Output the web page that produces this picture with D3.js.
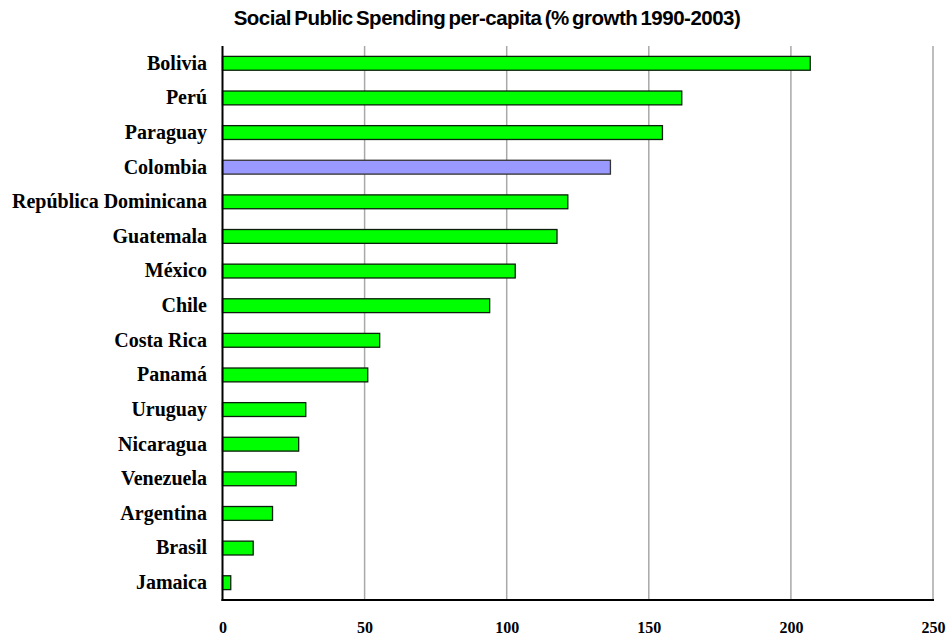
<!DOCTYPE html>
<html>
<head>
<meta charset="utf-8">
<script src="https://cdn.jsdelivr.net/npm/d3@7/dist/d3.min.js"></script>
<style>
  html, body { margin: 0; padding: 0; background: #fff; }
  svg { display: block; }
</style>
</head>
<body>
<svg id="chart" width="948" height="639"></svg>
<script>
// Social public spending per capita, % growth 1990-2003
const countries = ["Bolivia", "Perú", "Paraguay", "Colombia", "República Dominicana",
  "Guatemala", "México", "Chile", "Costa Rica", "Panamá", "Uruguay", "Nicaragua",
  "Venezuela", "Argentina", "Brasil", "Jamaica"];
const growth = [206.8, 161.6, 154.8, 136.5, 121.5, 117.7, 103.0, 94.0,
  55.3, 51.1, 29.3, 26.8, 25.9, 17.6, 10.8, 2.9];
const highlighted = ["Colombia"];
const xTicks = [0, 50, 100, 150, 200, 250];

const rows = countries.map((c, i) => ({ country: c, value: growth[i] }));

const svg = d3.select("#chart");
const margin = { top: 46, right: 15, bottom: 39, left: 222.5 };
const W = 948, H = 639;

const x = d3.scaleLinear().domain([0, 250]).range([margin.left, W - margin.right]);
const y = d3.scaleBand().domain(countries)
  .range([margin.top, H - margin.bottom])
  .paddingInner(0.6).paddingOuter(0.3);

// title
svg.append("text")
  .attr("x", 487).attr("y", 25)
  .attr("text-anchor", "middle")
  .attr("font-family", "'Liberation Sans', Arial, sans-serif")
  .attr("font-weight", "bold")
  .attr("font-size", 20.5)
  .attr("letter-spacing", -0.5)
  .attr("word-spacing", -2)
  .attr("fill", "#000")
  .text("Social Public Spending per-capita (% growth 1990-2003)");

// vertical gridlines
svg.append("g")
  .selectAll("line")
  .data(xTicks.filter(t => t > 0))
  .join("line")
  .attr("x1", d => x(d)).attr("x2", d => x(d))
  .attr("y1", margin.top).attr("y2", H - margin.bottom)
  .attr("stroke", "#a8a8a8")
  .attr("stroke-width", 1.5);

// bars
svg.append("g")
  .selectAll("rect")
  .data(rows)
  .join("rect")
  .attr("x", x(0))
  .attr("y", d => y(d.country))
  .attr("width", d => x(d.value) - x(0))
  .attr("height", y.bandwidth())
  .attr("fill", d => highlighted.includes(d.country) ? "#9999ff" : "#00ff00")
  .attr("stroke", d => highlighted.includes(d.country) ? "#333333" : "#0a200a")
  .attr("stroke-width", 1.3);

// axes lines
svg.append("line")
  .attr("x1", x(0)).attr("x2", x(0))
  .attr("y1", margin.top).attr("y2", H - margin.bottom + 1)
  .attr("stroke", "#000").attr("stroke-width", 2);
svg.append("line")
  .attr("x1", x(0) - 1).attr("x2", x(250) + 1)
  .attr("y1", H - margin.bottom).attr("y2", H - margin.bottom)
  .attr("stroke", "#000").attr("stroke-width", 2);

// x tick labels
const xAxis = d3.axisBottom(x).tickValues(xTicks).tickSize(0).tickPadding(22).tickFormat(d3.format("d"));
const gx = svg.append("g")
  .attr("transform", `translate(0,${H - margin.bottom})`)
  .call(xAxis);
gx.select(".domain").remove();
gx.selectAll("text")
  .attr("font-family", "'Liberation Serif', 'Times New Roman', serif")
  .attr("font-weight", "bold")
  .attr("font-size", 16)
  .attr("fill", "#000");

// category labels
const yAxis = d3.axisLeft(y).tickSize(0).tickPadding(15.5);
const gy = svg.append("g")
  .attr("transform", `translate(${x(0)},0)`)
  .call(yAxis);
gy.select(".domain").remove();
gy.selectAll("text")
  .attr("font-family", "'Liberation Serif', 'Times New Roman', serif")
  .attr("font-weight", "bold")
  .attr("font-size", 20)
  .attr("fill", "#000");
</script>
</body>
</html>
